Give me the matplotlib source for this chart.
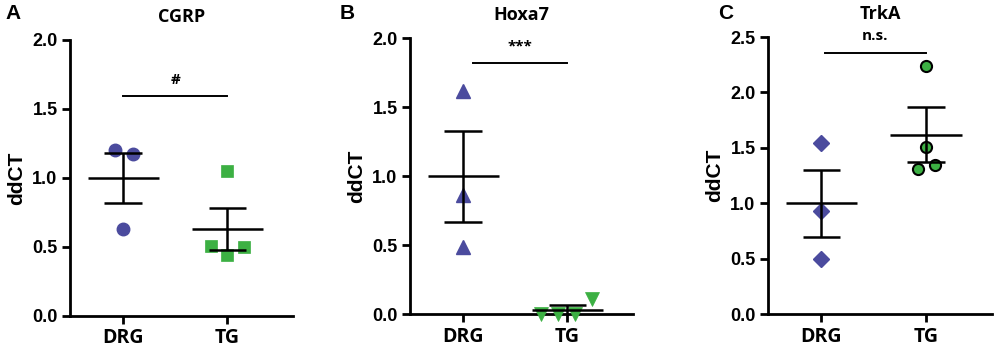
import matplotlib
matplotlib.use("Agg")
import matplotlib.pyplot as plt
import numpy as np

# --------- DATA ----------
groups = ["DRG", "TG"]

cgrp_drg = [1.20, 1.17, 0.63]
cgrp_tg = [1.05, 0.51, 0.44, 0.50]
cgrp_mean = [1.00, 0.63]
cgrp_sem = [0.18, 0.15]

hoxa_drg = [1.62, 0.86, 0.49]
hoxa_tg = [0.0, 0.0, 0.0, 0.11]
hoxa_mean = [1.00, 0.03]
hoxa_sem = [0.33, 0.035]

trka_drg = [1.54, 0.93, 0.50]
trka_tg = [2.24, 1.51, 1.31, 1.35]
trka_mean = [1.00, 1.62]
trka_sem = [0.30, 0.245]

# horizontal jitter of the points (as drawn by the original software)
jit_a = [[-0.08, 0.09, 0.0], [0.0, -0.16, 0.0, 0.16]]
jit_b = [[0.0, 0.0, 0.0], [-0.25, -0.09, 0.07, 0.24]]
jit_c = [[0.0, 0.0, 0.0], [0.0, 0.0, -0.08, 0.09]]

BLUE = "#4b4b9e"
GREEN = "#3cb043"

tick_font = dict(family="Liberation Sans", weight="bold", size=13)
lab_font = dict(family="Open Sans", weight="bold", size=14)

fig = plt.figure(figsize=(10, 3.53), dpi=100)


def panel(rect, letter, title, drg, tg, mean, sem, jit, ymax, yticks,
          mk_drg, mk_tg, ms, tg_edge, sig, sig_y, sig_x0, tlab_x):
    ax = fig.add_axes(rect)
    ax.plot(np.array(jit[0]) + 0, drg, ls="none", marker=mk_drg, ms=ms,
            color=BLUE, mec=BLUE, clip_on=False, zorder=3)
    ax.plot(np.array(jit[1]) + 1, tg, ls="none", marker=mk_tg, ms=ms,
            color=GREEN, mec=tg_edge, mew=1.5 if tg_edge == "black" else 0.5,
            clip_on=False, zorder=3)
    for i in range(2):
        ax.hlines(mean[i], i - 0.34, i + 0.34, color="black", lw=1.8, zorder=4)
        ax.vlines(i, mean[i] - sem[i], mean[i] + sem[i], color="black", lw=1.8, zorder=4)
        ax.hlines([mean[i] - sem[i], mean[i] + sem[i]], i - 0.18, i + 0.18,
                  color="black", lw=1.8, zorder=4)
    ax.plot([sig_x0, 1.0], [sig_y, sig_y], color="black", lw=1.4, clip_on=False)
    ax.text((sig_x0 + 1.0) / 2, sig_y + 0.035 * ymax, sig, ha="center", va="bottom",
            fontsize=11, fontweight="bold", family="Open Sans")
    ax.set_xlim(-0.51, 1.63)
    ax.set_ylim(0, ymax)
    ax.set_yticks(yticks)
    ax.set_yticklabels(["%.1f" % t for t in yticks], fontdict=tick_font)
    ax.set_xticks([0, 1])
    ax.set_xticklabels(groups, fontdict=lab_font)
    ax.set_ylabel("ddCT", fontsize=15, fontweight="bold", family="Liberation Sans", labelpad=4)
    for s in ["top", "right"]:
        ax.spines[s].set_visible(False)
    for s in ["left", "bottom"]:
        ax.spines[s].set_linewidth(2)
    ax.tick_params(width=2, length=6, pad=3)
    ax.set_title(title, fontsize=13, fontweight="bold", family="Open Sans", pad=13)
    fig.text(rect[0] + tlab_x, 0.962, letter, fontsize=15, fontweight="bold",
             family="Liberation Sans", va="center")
    return ax


panel([0.070, 0.105, 0.223, 0.782], "A", "CGRP", cgrp_drg, cgrp_tg, cgrp_mean,
      cgrp_sem, jit_a, 2.0, [0.0, 0.5, 1.0, 1.5, 2.0], "o", "s", 9, GREEN,
      "#", 1.59, 0.0, -0.065)
panel([0.410, 0.110, 0.223, 0.782], "B", "Hoxa7", hoxa_drg, hoxa_tg, hoxa_mean,
      hoxa_sem, jit_b, 2.0, [0.0, 0.5, 1.0, 1.5, 2.0], "^", "v", 10, GREEN,
      "***", 1.82, 0.09, -0.07)
panel([0.768, 0.110, 0.224, 0.785], "C", "TrkA", trka_drg, trka_tg, trka_mean,
      trka_sem, jit_c, 2.5, [0.0, 0.5, 1.0, 1.5, 2.0, 2.5], "D", "o", 8, "black",
      "n.s.", 2.36, 0.03, -0.05)

fig.savefig("out.png", dpi=100)
